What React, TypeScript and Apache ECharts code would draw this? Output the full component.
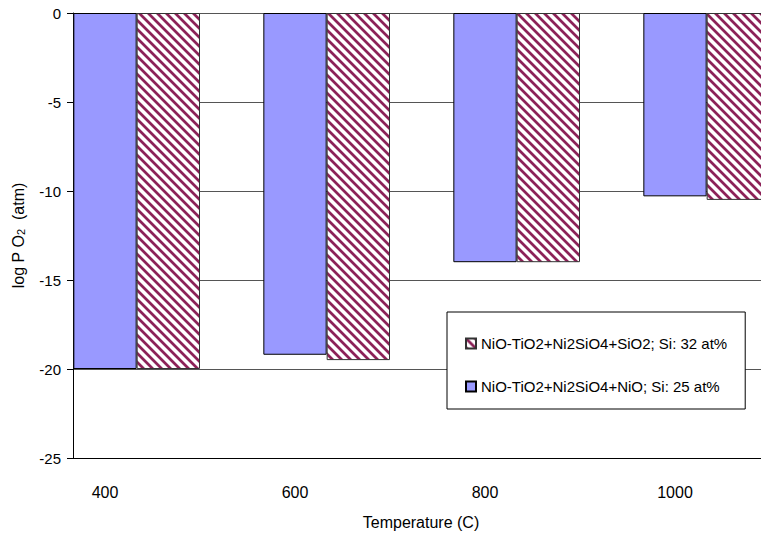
import React, { useEffect, useRef } from "react";
import * as echarts from "echarts";

const categories = ["400", "600", "800", "1000"];
const blueName = "NiO-TiO2+Ni2SiO4+NiO; Si: 25 at%";
const hatchName = "NiO-TiO2+Ni2SiO4+SiO2; Si: 32 at%";
const blueValues = [-20, -19.2, -14, -10.3];
const hatchValues = [-20, -19.5, -14, -10.5];
const yMin = -25;
const yMax = 0;
const yInterval = 5;

const FONT = "'Liberation Sans', Arial, sans-serif";

function makeHatch(): HTMLCanvasElement {
  const size = 9;
  const c = document.createElement("canvas");
  c.width = size;
  c.height = size;
  const ctx = c.getContext("2d")!;
  const img = ctx.createImageData(size, size);
  const fg = [140, 34, 88];
  for (let y = 0; y < size; y++) {
    for (let x = 0; x < size; x++) {
      let d = (((x - y) % size) + size) % size;
      d = Math.min(d, size - d);
      let a: number;
      if (d <= 1.5) a = 1;
      else if (d <= 2.5) a = 0.45;
      else a = 0;
      const i = (y * size + x) * 4;
      img.data[i] = Math.round(fg[0] * a + 255 * (1 - a));
      img.data[i + 1] = Math.round(fg[1] * a + 255 * (1 - a));
      img.data[i + 2] = Math.round(fg[2] * a + 255 * (1 - a));
      img.data[i + 3] = 255;
    }
  }
  ctx.putImageData(img, 0, 0);
  return c;
}

export default function App() {
  const ref = useRef<HTMLDivElement>(null);
  useEffect(() => {
    if (!ref.current) return;
    const chart = echarts.init(ref.current, null, { renderer: "svg" });
    const hatch = makeHatch();
    const hatchColor: any = { image: hatch, repeat: "repeat", imageWidth: 9, imageHeight: 9 };
    chart.setOption({
      animation: false,
      backgroundColor: "#ffffff",
      textStyle: { fontFamily: FONT },
      legend: {
        data: [hatchName, blueName],
        orient: "vertical",
        left: 447,
        top: 312,
        padding: [24, 18, 15, 18],
        itemGap: 28,
        itemWidth: 10,
        itemHeight: 10,
        backgroundColor: "#ffffff",
        borderColor: "#000000",
        borderWidth: 1,
        borderRadius: 0,
        icon: "rect",
        textStyle: { fontSize: 15, color: "#000", fontFamily: FONT },
      },
      grid: [
        { left: 10, top: 13, width: 760, height: 445 },
        { left: 73, top: 13, width: 696, height: 445 },
      ],
      xAxis: [
        {
          gridIndex: 0,
          type: "category",
          data: categories,
          axisLine: { show: false },
          axisTick: { show: false },
          splitLine: { show: false },
          axisLabel: { fontSize: 16, color: "#000", margin: 26, fontFamily: FONT },
        },
        {
          gridIndex: 1,
          type: "value",
          min: 0,
          max: 1,
          axisLabel: { show: false },
          axisTick: { show: false },
          splitLine: { show: false },
          axisLine: { show: true, onZero: false, lineStyle: { color: "#000", width: 1 } },
          name: "Temperature (C)",
          nameLocation: "middle",
          nameGap: 56,
          nameTextStyle: { fontSize: 16, color: "#000", fontFamily: FONT },
        },
      ],
      yAxis: [
        { gridIndex: 0, type: "value", min: yMin, max: yMax, show: false, splitLine: { show: false } },
        {
          gridIndex: 1,
          type: "value",
          min: yMin,
          max: yMax,
          interval: yInterval,
          axisLine: { show: true, onZero: false, lineStyle: { color: "#000", width: 1 } },
          axisTick: { show: true, length: 6, lineStyle: { color: "#000" } },
          axisLabel: {
            fontSize: 15,
            color: "#000",
            margin: 12,
            padding: [10, 0, 0, 0],
            fontFamily: FONT,
          },
          splitLine: { show: true, lineStyle: { color: "#555", width: 1 } },
          name: "{a|log P O}{b|2}{a|  (atm)}",
          nameLocation: "middle",
          nameGap: 47,
          nameTextStyle: {
            color: "#000",
            fontFamily: FONT,
            rich: {
              a: { fontSize: 16, color: "#000", fontFamily: FONT },
              b: { fontSize: 11, color: "#000", fontFamily: FONT, verticalAlign: "bottom" },
            },
          },
        },
      ],
      series: [
        {
          name: "_spacer",
          type: "bar",
          xAxisIndex: 0,
          yAxisIndex: 0,
          data: categories.map(() => "-"),
          barGap: "0%",
          barCategoryGap: "0%",
          silent: true,
          itemStyle: { color: "rgba(0,0,0,0)" },
        },
        {
          name: blueName,
          type: "bar",
          xAxisIndex: 0,
          yAxisIndex: 0,
          data: blueValues,
          barGap: "0%",
          barCategoryGap: "0%",
          itemStyle: { color: "#9999FF", borderColor: "#000", borderWidth: 1 },
        },
        {
          name: hatchName,
          type: "bar",
          xAxisIndex: 0,
          yAxisIndex: 0,
          data: hatchValues,
          barGap: "0%",
          barCategoryGap: "0%",
          itemStyle: { color: hatchColor, borderColor: "#333", borderWidth: 1 },
        },
      ],
    });
    return () => chart.dispose();
  }, []);
  return (
    <div
      style={{
        position: "absolute",
        left: 0,
        top: 0,
        width: 761,
        height: 538,
        overflow: "hidden",
        background: "#fff",
      }}
    >
      <div ref={ref} style={{ width: 800, height: 538 }} />
    </div>
  );
}
